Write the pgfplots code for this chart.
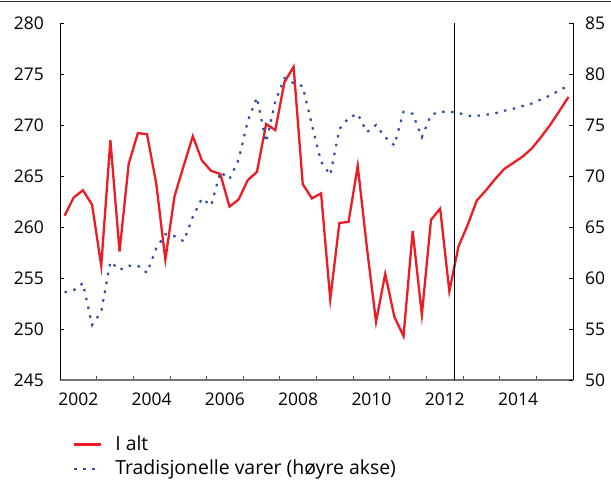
\documentclass[border=0pt]{standalone}
\usepackage{pgfplots}
\pgfplotsset{compat=1.18}
\usepackage{fontspec}
\setmainfont{Open Sans}
\definecolor{cred}{RGB}{237,28,36}
\definecolor{cblue}{RGB}{46,80,165}
\begin{document}
\begin{tikzpicture}
\useasboundingbox (-60bp,-102bp) rectangle (551bp,380bp);
\draw[line width=1.5bp, black!80] (-60bp,378.5bp) -- (551bp,378.5bp);
\begin{axis}[
  at={(0,0)}, anchor=south west,
  scale only axis, width=513bp, height=357bp,
  xmin=2002, xmax=2016, ymin=245, ymax=280,
  axis x line*=bottom, axis y line*=left,
  x axis line style={draw=black!55, line width=1.3bp, -},
  y axis line style={draw=black, line width=0.8bp, -},
  tick align=inside,
  xtick={2002.5,2004.5,...,2014.5},
  xticklabels={2002,2004,2006,2008,2010,2012,2014},
  minor xtick={2003,2004,...,2015},
  major x tick style={draw=none},
  minor x tick style={draw=black!70, line width=0.8bp},
  minor tick length=4bp,
  ytick={245,250,...,280},
  major tick length=4bp,
  y tick style={draw=black, line width=0.8bp},
  ticklabel style={font=\fontsize{17.5}{20}\selectfont, inner sep=0pt},
  /pgf/number format/assume math mode=true,
  /pgf/number format/1000 sep={},
  xticklabel style={anchor=north, yshift=-12.5bp},
  yticklabel style={anchor=east, xshift=-16bp},
  legend cell align=left,
  legend style={draw=none, fill=none, at={(axis description cs:0.025,-0.150)}, anchor=north west,
    font=\fontsize{19.5}{22}\selectfont, row sep=2.5bp, inner sep=0pt,
    nodes={inner sep=2bp, text depth=3bp},
    /tikz/every even column/.append style={column sep=0bp}},
  legend image code/.code={\draw[#1] (0bp,0bp) -- (27bp,0bp); \path (38bp,0bp);},
]
\addplot[cred, line width=2.3bp, line join=miter] coordinates {
(2002.125,261.1) (2002.375,262.9) (2002.625,263.6) (2002.875,262.2)
(2003.125,256.2) (2003.375,268.5) (2003.625,257.6) (2003.875,266.2)
(2004.125,269.2) (2004.375,269.1) (2004.625,264.3) (2004.875,256.8)
(2005.125,263.0) (2005.375,266.0) (2005.625,268.9) (2005.875,266.5)
(2006.125,265.5) (2006.375,265.2) (2006.625,262.0) (2006.875,262.7)
(2007.125,264.6) (2007.375,265.4) (2007.625,270.1) (2007.875,269.5)
(2008.125,274.2) (2008.375,275.7) (2008.625,264.2) (2008.875,262.8)
(2009.125,263.3) (2009.375,252.9) (2009.625,260.4) (2009.875,260.5)
(2010.125,266.0) (2010.375,258.0) (2010.625,250.7) (2010.875,255.4)
(2011.125,251.2) (2011.375,249.3) (2011.625,259.6) (2011.875,251.4)
(2012.125,260.7) (2012.375,261.8) (2012.625,253.7) (2012.875,258.1)
(2013.125,260.2) (2013.375,262.6) (2013.625,263.6) (2013.875,264.7)
(2014.125,265.7) (2014.375,266.3) (2014.625,266.9) (2014.875,267.7)
(2015.125,268.8) (2015.375,270.0) (2015.625,271.35) (2015.875,272.75)
};
\addlegendentry{I alt}
\addlegendimage{cblue, line width=2.2bp, dash pattern=on 2.5bp off 6.5bp}
\addlegendentry{Tradisjonelle varer (høyre akse)}
\addplot[black, line width=0.8bp, forget plot] coordinates {(2012.75,245) (2012.75,280)};
\end{axis}
\begin{axis}[
  at={(0,0)}, anchor=south west,
  scale only axis, width=513bp, height=357bp,
  xmin=2002, xmax=2016, ymin=50, ymax=85,
  axis x line=none, axis y line*=right,
  y axis line style={draw=black, line width=0.8bp, -},
  tick align=inside,
  ytick={50,55,...,85},
  major tick length=4bp,
  y tick style={draw=black, line width=0.8bp},
  ticklabel style={font=\fontsize{17.5}{20}\selectfont, inner sep=0pt},
  /pgf/number format/assume math mode=true,
  yticklabel style={anchor=west, xshift=12bp},
]
\addplot[cblue, line width=2.2bp, dash pattern=on 2.5bp off 6.5bp] coordinates {
(2002.125,58.6) (2002.375,58.8) (2002.625,59.5) (2002.875,55.4)
(2003.125,56.7) (2003.375,61.6) (2003.625,60.8) (2003.875,61.2)
(2004.125,61.2) (2004.375,60.5) (2004.625,62.9) (2004.875,64.3)
(2005.125,64.1) (2005.375,63.6) (2005.625,66.0) (2005.875,67.8)
(2006.125,67.1) (2006.375,70.4) (2006.625,69.7) (2006.875,71.6)
(2007.125,75.4) (2007.375,77.7) (2007.625,73.3) (2007.875,77.3)
(2008.125,79.6) (2008.375,79.1) (2008.625,78.8) (2008.875,75.0)
(2009.125,71.4) (2009.375,70.1) (2009.625,74.6) (2009.875,75.7)
(2010.125,76.1) (2010.375,74.3) (2010.625,75.0) (2010.875,73.8)
(2011.125,73.0) (2011.375,76.3) (2011.625,76.1) (2011.875,73.8)
(2012.125,76.0) (2012.375,76.3) (2012.625,76.3) (2012.875,76.2)
(2013.125,75.9) (2013.375,75.9) (2013.625,76.0) (2013.875,76.15)
(2014.125,76.4) (2014.375,76.6) (2014.625,76.85) (2014.875,77.1)
(2015.125,77.5) (2015.375,77.9) (2015.625,78.4) (2015.875,78.85)
};
\end{axis}
\end{tikzpicture}
\end{document}
